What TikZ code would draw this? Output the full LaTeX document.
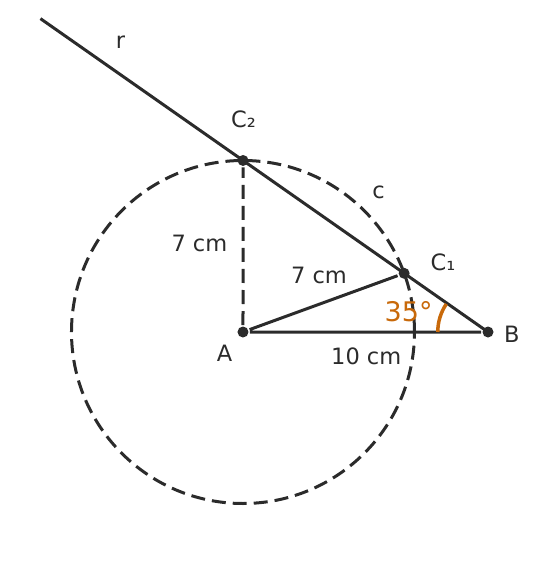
\documentclass[tikz,border=0pt]{standalone}
\usepackage{fontspec}
\setmainfont{DejaVu Sans}
\usetikzlibrary{calc}
\definecolor{ink}{HTML}{2B2B2B}
\definecolor{anglecol}{HTML}{C8690A}

\begin{document}
\begin{tikzpicture}[x=24.5pt,y=24.5pt,line width=3pt,
            dot node/.style={circle,fill=ink,inner sep=0pt,minimum size=11pt},
            label node/.style={anchor=base,text=ink,inner sep=0pt,
            font=\fontsize{22.5}{26}\selectfont},
            dash line/.style={ink,dash pattern=on 14pt off 7pt}]

            \useasboundingbox (-9.918,-9.959) rectangle (12.939,13.551);

            \node[dot node] (A) at (0,0) {};
            \node[dot node] (B) at (10,0) {};
            \coordinate (rEnd) at ($(B)+(145:22.3)$);

            % line r through both intersection points
            \draw [ink] (B.center) -- (rEnd);
            \node[dot node] (C1) at ($(B)+(145:4.178)$) {};
            \node[dot node] (C2) at ($(B)+(145:12.205)$) {};

            \draw [dash line] (A.center) circle (7);
            \draw [dash line] (A) -- (C2);
            \draw [ink] (A) -- (B) (A) -- (C1);

            \draw [anglecol,line width=3.5pt] ($(B.center)+(180:2.05)$) arc (180:146:2.05);

            \node[label node] (rLabel) at (-5.0,11.59) {r};
            \node[label node] (C2Label) at (0.02,8.33) {C₂};
            \node[label node] (cLabel) at (5.53,5.46) {c};
            \node[label node] (AC2Label) at (-1.78,3.28) {7 cm};
            \node[label node] (AC1Label) at (3.10,1.99) {7 cm};
            \node[label node] (C1Label) at (8.16,2.53) {C₁};
            \node[label node,text=anglecol,font=\fontsize{27}{32}\selectfont] (angleLabel) at (6.76,0.42) {35°};
            \node[label node] (BLabel) at (10.97,-0.44) {B};
            \node[label node] (ALabel) at (-0.75,-1.21) {A};
            \node[label node] (ABLabel) at (5.03,-1.32) {10 cm};
          \end{tikzpicture}
\end{document}
